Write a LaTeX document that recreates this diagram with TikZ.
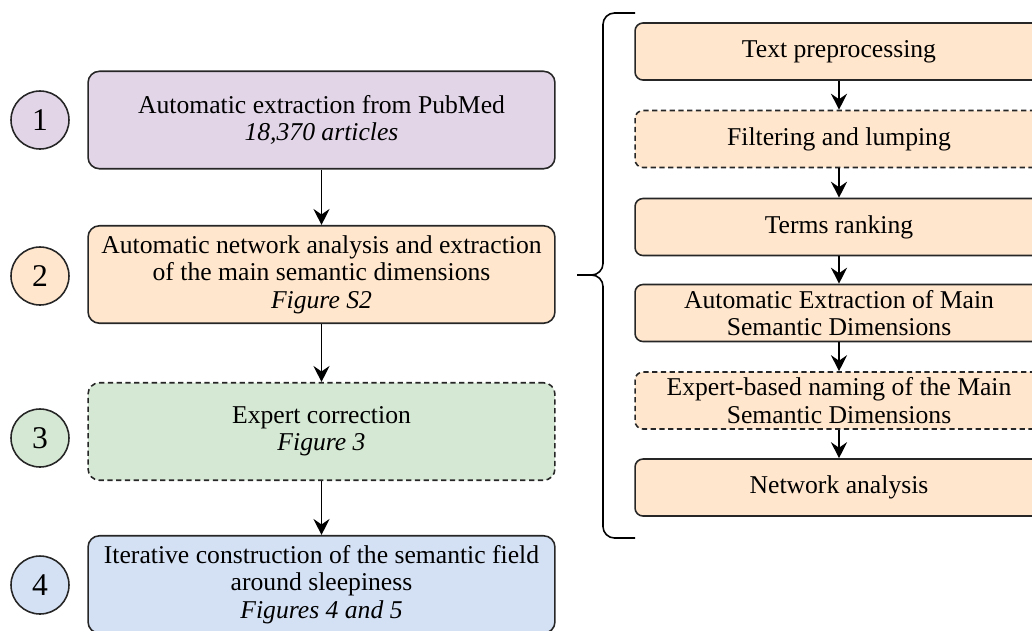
\documentclass[tikz,border=0pt]{standalone}
\usepackage{fontspec}
\setmainfont{Liberation Serif}
\usetikzlibrary{arrows.meta}
\definecolor{stepPurple}{HTML}{E1D5E7}
\definecolor{stepOrange}{HTML}{FFE6CC}
\definecolor{stepGreen}{HTML}{D5E8D4}
\definecolor{stepBlue}{HTML}{D4E1F5}
\tikzset{
  box/.style={draw=black!85,line width=0.9pt,rounded corners=6.5pt,align=center,
    minimum width=9.34cm,minimum height=1.95cm,inner sep=2pt,
    font=\fontsize{14.6}{15.6}\selectfont},
  substep/.style={box,fill=stepOrange,rounded corners=4.5pt,minimum width=8.16cm,minimum height=1.14cm},
  num/.style={draw=black!85,line width=0.9pt,circle,minimum size=1.16cm,inner sep=0pt,
    font=\fontsize{18}{18}\selectfont},
  optional/.style={dash pattern=on 3pt off 2pt},
  flow/.style={-{Stealth[length=3.2mm,width=3.2mm,inset=1.1mm]},line width=0.9pt}
}
\begin{document}
\begin{tikzpicture}[x=0.02cm,y=-0.02cm]
\useasboundingbox (0,0) rectangle (1032,630);
\clip (0,0) rectangle (1032,630);
\node [num,fill=stepPurple] (num1) at (40,120) {1};
\node [num,fill=stepOrange] (num2) at (40,276) {2};
\node [num,fill=stepGreen] (num3) at (40,438) {3};
\node [num,fill=stepBlue] (num4) at (40,585) {4};
\node [box,fill=stepPurple] (box1) at (321.5,120) {Automatic extraction from PubMed\\\textit{18,370 articles}};
\node [box,fill=stepOrange] (box2) at (321.5,274.5) {Automatic network analysis and extraction\\of the main semantic dimensions\\\textit{Figure S2}};
\node [box,fill=stepGreen,optional] (box3) at (321.5,431.5) {Expert correction\\\textit{Figure 3}};
\node [box,fill=stepBlue] (box4) at (321.5,584.5) {Iterative construction of the semantic field\\around sleepiness\\\textit{Figures 4 and 5}};
\draw [flow] (box1) -- (box2);
\draw [flow] (box2) -- (box3);
\draw [flow] (box3) -- (box4);
\draw [line width=0.9pt,rounded corners=6.5pt] (635,13) -- (603,13) -- (603,275) -- (577,275)
  (577,275) -- (603,275) -- (603,538) -- (635,538);
\node [substep] (pre) at (839,51.5) {Text preprocessing};
\node [substep,optional] (filt) at (839,139) {Filtering and lumping};
\node [substep] (rank) at (839,227) {Terms ranking};
\node [substep] (extr) at (839,313) {Automatic Extraction of Main\\Semantic Dimensions};
\node [substep,optional] (naming) at (839,400.5) {Expert-based naming of the Main\\Semantic Dimensions};
\node [substep] (netw) at (839,487.5) {Network analysis};
\draw [flow] (pre) -- (filt);
\draw [flow] (filt) -- (rank);
\draw [flow] (rank) -- (extr);
\draw [flow] (extr) -- (naming);
\draw [flow] (naming) -- (netw);
\end{tikzpicture}
\end{document}
